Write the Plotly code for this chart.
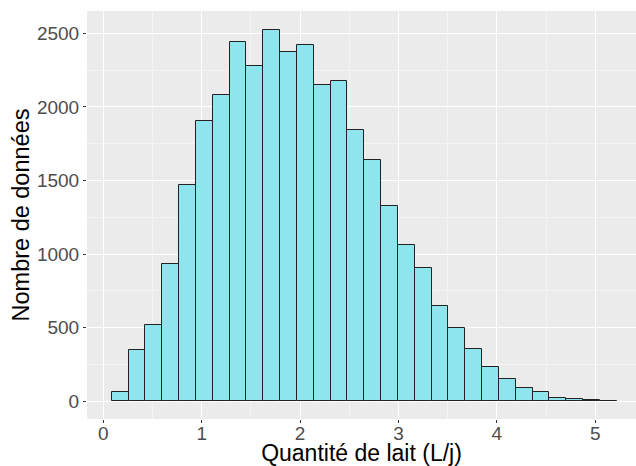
import plotly.graph_objects as go

# Histogram of daily milk quantity: 30 bins
bin_start = 0.0854
bin_width = 0.17107
counts = [63, 346, 518, 933, 1467, 1902, 2079, 2443, 2280, 2520,
          2375, 2418, 2149, 2174, 1841, 1639, 1325, 1060, 903, 647,
          498, 355, 235, 149, 88, 65, 22, 15, 7, 3]
centers = [bin_start + bin_width * (i + 0.5) for i in range(len(counts))]

x_ticks = [0, 1, 2, 3, 4, 5]
y_ticks = [0, 500, 1000, 1500, 2000, 2500]

fig = go.Figure(
    go.Bar(
        x=centers,
        y=counts,
        width=bin_width,
        marker=dict(color="#8EE5EE", line=dict(color="#222222", width=1)),
    )
)

font = "Liberation Sans, Arial, sans-serif"
fig.update_layout(
    width=636,
    height=466,
    margin=dict(l=87, r=0, t=11, b=47),
    paper_bgcolor="white",
    plot_bgcolor="#EBEBEB",
    showlegend=False,
    bargap=0,
    font=dict(family=font),
)
fig.update_xaxes(
    range=[-0.1657, 5.4136],
    tickvals=x_ticks,
    ticktext=[str(v) for v in x_ticks],
    ticks="outside",
    ticklen=3,
    tickwidth=1,
    tickcolor="#333333",
    tickfont=dict(size=19, color="#4D4D4D", family=font),
    ticklabelstandoff=-6,
    showgrid=True,
    gridcolor="white",
    gridwidth=1.2,
    minor=dict(dtick=0.5, tick0=0.5, showgrid=True, gridcolor="#F4F4F4", gridwidth=0.6, ticks=""),
    zeroline=False,
    showline=False,
    title=dict(text="Quantité de lait (L/j)", font=dict(size=23, color="black", family=font), standoff=4),
)
fig.update_yaxes(
    range=[-120, 2651.5],
    tickvals=y_ticks,
    ticktext=[str(v) for v in y_ticks],
    ticks="outside",
    ticklen=3,
    tickwidth=1,
    tickcolor="#333333",
    tickfont=dict(size=19, color="#4D4D4D", family=font),
    showgrid=True,
    gridcolor="white",
    gridwidth=1.2,
    minor=dict(dtick=500, tick0=250, showgrid=True, gridcolor="#F4F4F4", gridwidth=0.6, ticks=""),
    zeroline=False,
    showline=False,
    title=dict(text="Nombre de données", font=dict(size=23.5, color="black", family=font), standoff=0),
)

fig.write_html("out.html")
